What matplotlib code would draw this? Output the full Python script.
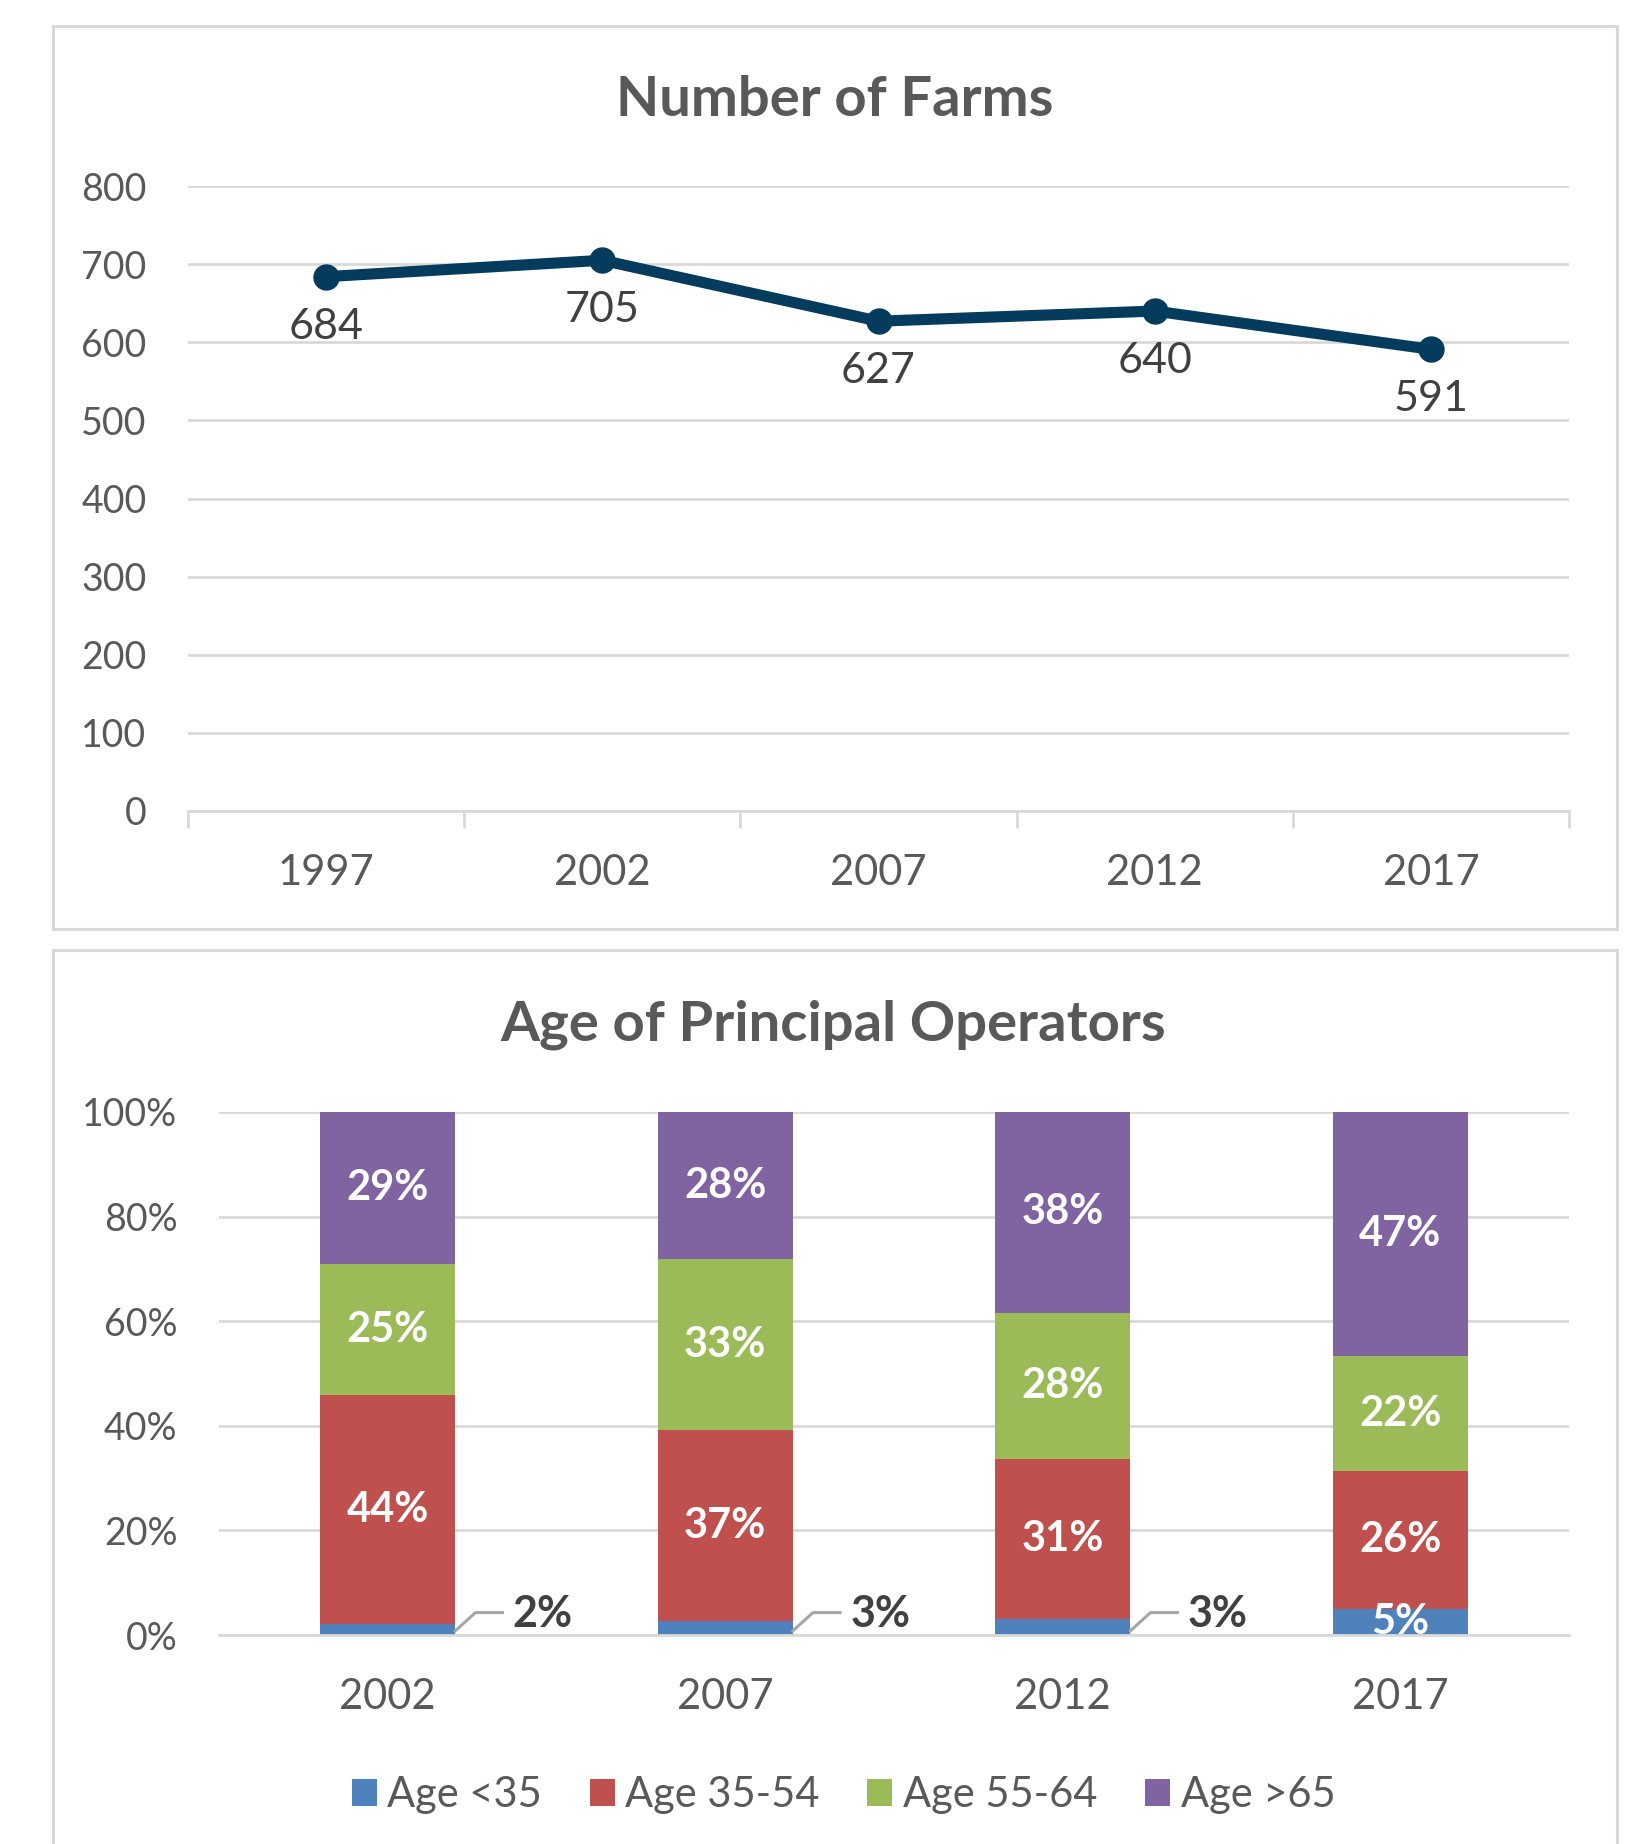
import numpy as np
import matplotlib
matplotlib.use("Agg")
import matplotlib.pyplot as plt
from matplotlib.patches import Rectangle

plt.rcParams['font.family'] = ['Lato', 'DejaVu Sans']

# data
farm_years = ["1997", "2002", "2007", "2012", "2017"]
farm_counts = [684, 705, 627, 640, 591]

age_years = ["2002", "2007", "2012", "2017"]
age_groups = ["Age <35", "Age 35-54", "Age 55-64", "Age >65"]
age_lt35 = [2.1, 2.6, 3.0, 5.0]
age_35_54 = [43.8, 36.6, 30.6, 26.4]
age_55_64 = [25.0, 32.6, 28.0, 21.9]
age_gt65 = [29.1, 28.2, 38.4, 46.7]

group_colors = ["#4F81BD", "#C0504D", "#9BBB59", "#8064A2"]
line_color = "#053B5C"
text_gray = "#595959"
label_gray = "#404040"
grid_gray = "#D9D9D9"

fig = plt.figure(figsize=(16.44, 18.44), dpi=100)

# panel frames
for (x0, y0, w, h) in [(0.0322, 0.4962, 0.9514, 0.4897), (0.0322, -0.02, 0.9514, 0.5048)]:
    fig.patches.append(Rectangle((x0, y0), w, h, transform=fig.transFigure,
                                 fill=False, edgecolor=grid_gray, lw=2.2))

# ---- top: number of farms ----
ax1 = fig.add_axes([0.1144, 0.5602, 0.84, 0.3389])
xs = np.arange(len(farm_years))
ax1.plot(xs, farm_counts, '-o', color=line_color, lw=8, markersize=18, zorder=3)
for x, v in zip(xs, farm_counts):
    ax1.annotate(str(v), (x, v), xytext=(0, -36), textcoords='offset points',
                 ha='center', va='center', fontsize=31, color=label_gray)
ax1.set_ylim(0, 800)
ax1.set_xlim(-0.5, len(farm_years) - 0.5)
ax1.set_yticks(np.arange(0, 801, 100))
ax1.yaxis.grid(True, color=grid_gray, lw=2)
ax1.set_axisbelow(True)
ax1.set_xticks(np.arange(-0.5, len(farm_years), 1.0))
ax1.set_xticklabels([])
ax1.set_xticks(xs, minor=True)
ax1.set_xticklabels(farm_years, minor=True)
ax1.tick_params(axis='x', which='major', length=12, width=2, color=grid_gray)
ax1.tick_params(axis='x', which='minor', length=0, pad=31, labelsize=30, labelcolor=text_gray)
ax1.tick_params(axis='y', length=0, pad=30, labelsize=27, labelcolor=text_gray)
for s in ['top', 'right', 'left']:
    ax1.spines[s].set_visible(False)
ax1.spines['bottom'].set_color(grid_gray)
ax1.spines['bottom'].set_linewidth(2)
fig.text(0.508, 0.9458, "Number of Farms", ha='center', va='center',
         fontsize=40.5, fontweight='bold', color=text_gray)

# ---- bottom: age of principal operators ----
ax2 = fig.add_axes([0.1332, 0.1133, 0.8212, 0.2837])
bx = np.arange(len(age_years))
series = [age_lt35, age_35_54, age_55_64, age_gt65]
bottom = np.zeros(len(age_years))
for name, vals, c in zip(age_groups, series, group_colors):
    vals = np.array(vals)
    ax2.bar(bx, vals, 0.4, bottom=bottom, color=c, label=name, zorder=2)
    for i, (b, v) in enumerate(zip(bottom, vals)):
        if name == "Age <35" and i < 3:
            # leader line + outside label
            ax2.plot([i + 0.2, i + 0.26, i + 0.34], [b + 0.8, 4.3, 4.3],
                     color="#A6A6A6", lw=2.2, zorder=3, clip_on=False)
            ax2.text(i + 0.37, 4.0, f"{v:.0f}%", ha='left', va='center',
                     fontsize=31, fontweight='bold', color=label_gray)
        else:
            ax2.text(i, b + v / 2, f"{v:.0f}%", ha='center', va='center',
                     fontsize=30, fontweight='bold', color='white', zorder=4)
    bottom = bottom + vals
ax2.set_ylim(0, 100)
ax2.set_xlim(-0.5, len(age_years) - 0.5)
ax2.set_yticks(np.arange(0, 101, 20))
ax2.set_yticklabels([f"{v}%" for v in range(0, 101, 20)])
ax2.set_xticks(bx)
ax2.set_xticklabels(age_years)
ax2.yaxis.grid(True, color=grid_gray, lw=2, zorder=0)
ax2.set_axisbelow(True)
ax2.tick_params(axis='x', length=0, pad=31, labelsize=30, labelcolor=text_gray)
ax2.tick_params(axis='y', length=0, pad=30, labelsize=27, labelcolor=text_gray)
for s in ['top', 'right', 'left']:
    ax2.spines[s].set_visible(False)
ax2.spines['bottom'].set_color(grid_gray)
ax2.spines['bottom'].set_linewidth(2)
fig.text(0.507, 0.4441, "Age of Principal Operators", ha='center', va='center',
         fontsize=40.5, fontweight='bold', color=text_gray)

leg = fig.legend(loc='center', bbox_to_anchor=(0.513, 0.0265), ncol=4, frameon=False,
                 fontsize=30, handlelength=0.6, handleheight=0.6, handletextpad=0.25,
                 columnspacing=1.15)
for t in leg.get_texts():
    t.set_color(text_gray)

fig.savefig("out.png", dpi=100)
